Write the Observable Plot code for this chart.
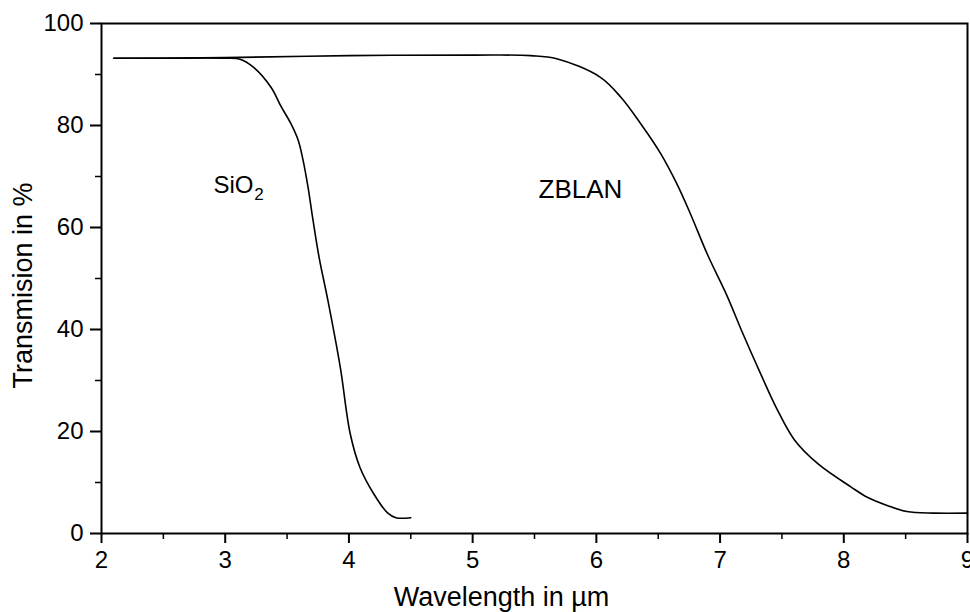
<!DOCTYPE html>
<html><head><meta charset="utf-8">
<script src="https://cdn.jsdelivr.net/npm/d3@7"></script>
<script src="https://cdn.jsdelivr.net/npm/@observablehq/plot@0.6"></script>
<style>body{margin:0;background:#fff}</style>
</head><body><div id="chart"></div>
<script>
const sio2Wavelength = [2.1, 2.5, 3.0, 3.12, 3.23, 3.37, 3.45, 3.53, 3.59, 3.63, 3.67, 3.71, 3.76, 3.83, 3.93, 4.01, 4.09, 4.2, 4.31, 4.38, 4.5];
const sio2Transmission = [93.2, 93.2, 93.2, 93.0, 91.4, 87.5, 83.8, 80.4, 77.1, 73.1, 67.8, 61.4, 54.0, 45.7, 32.6, 19.6, 12.9, 7.8, 4.1, 3.1, 3.1];
const zblanWavelength = [2.1, 3.0, 4.0, 5.0, 5.47, 5.68, 6.03, 6.2, 6.36, 6.52, 6.65, 6.76, 6.9, 7.06, 7.17, 7.33, 7.46, 7.6, 7.79, 8.06, 8.19, 8.35, 8.51, 8.73, 9.0];
const zblanTransmission = [93.2, 93.3, 93.7, 93.8, 93.7, 93.1, 89.5, 85.5, 80.3, 74.5, 68.6, 62.7, 54.6, 46.4, 40.0, 31.2, 24.4, 18.4, 13.7, 9.1, 7.1, 5.5, 4.3, 4.0, 4.0];

const xTicks = [2, 3, 4, 5, 6, 7, 8, 9];
const xMinorTicks = [2.5, 3.5, 4.5, 5.5, 6.5, 7.5, 8.5];
const yTicks = [0, 20, 40, 60, 80, 100];
const yMinorTicks = [10, 30, 50, 70, 90];
const xLabel = "Wavelength in µm";
const yLabel = "Transmision in %";

const sio2LabelText = ["SiO"];
const sio2LabelX = [2.905];
const sio2LabelY = [66.7];
const subText = ["2"];
const subX = [3.235];
const subY = [65.3];
const zblanLabelText = ["ZBLAN"];
const zblanLabelX = [5.533];
const zblanLabelY = [65.7];

const sio2 = sio2Wavelength.map((w, i) => ({w, t: sio2Transmission[i]}));
const zblan = zblanWavelength.map((w, i) => ({w, t: zblanTransmission[i]}));
const sio2Labels = sio2LabelText.map((s, i) => ({s, x: sio2LabelX[i], y: sio2LabelY[i]}));
const zblanLabels = zblanLabelText.map((s, i) => ({s, x: zblanLabelX[i], y: zblanLabelY[i]}));
const subs = subText.map((s, i) => ({s, x: subX[i], y: subY[i]}));

const font = "'Liberation Sans', Arial, Helvetica, sans-serif";

const plot = Plot.plot({
  width: 970, height: 612,
  marginLeft: 101, marginRight: 3, marginTop: 23, marginBottom: 79,
  style: {fontFamily: font, fontSize: "24px", color: "#000", background: "#fff", overflow: "visible"},
  x: {domain: [2, 9]},
  y: {domain: [0, 100]},
  marks: [
    Plot.axisX({ticks: xMinorTicks, tickSize: 6, tickFormat: () => "", label: null, strokeWidth: 1.5}),
    Plot.axisX({ticks: xTicks, tickSize: 10, tickPadding: 7, tickFormat: d => String(d), label: null, strokeWidth: 2, fontSize: 24}),
    Plot.axisY({ticks: yMinorTicks, tickSize: 6, tickFormat: () => "", label: null, strokeWidth: 1.5}),
    Plot.axisY({ticks: yTicks, tickSize: 11, tickPadding: 7, tickFormat: d => String(d), label: null, strokeWidth: 2, fontSize: 24}),
    Plot.frame({strokeWidth: 2, stroke: "#000"}),
    Plot.line(sio2, {x: "w", y: "t", curve: "catmull-rom", stroke: "#000", strokeWidth: 1.6}),
    Plot.line(zblan, {x: "w", y: "t", curve: "catmull-rom", stroke: "#000", strokeWidth: 1.6}),
    Plot.text(sio2Labels, {x: "x", y: "y", text: "s", textAnchor: "start", lineAnchor: "bottom", fontSize: 24, fill: "#000"}),
    Plot.text(subs, {x: "x", y: "y", text: "s", textAnchor: "start", lineAnchor: "bottom", fontSize: 17, fill: "#000"}),
    Plot.text(zblanLabels, {x: "x", y: "y", text: "s", textAnchor: "start", lineAnchor: "bottom", fontSize: 26, fill: "#000"}),
    Plot.text([xLabel], {frameAnchor: "bottom", text: d => d, dx: -33, dy: 64, textAnchor: "middle", lineAnchor: "middle", fontSize: 27, fill: "#000"}),
    Plot.text([yLabel], {frameAnchor: "left", text: d => d, dx: -78, dy: 7, rotate: -90, textAnchor: "middle", lineAnchor: "middle", fontSize: 27, fill: "#000"})
  ]
});
document.getElementById("chart").appendChild(plot);
</script>
</body></html>
